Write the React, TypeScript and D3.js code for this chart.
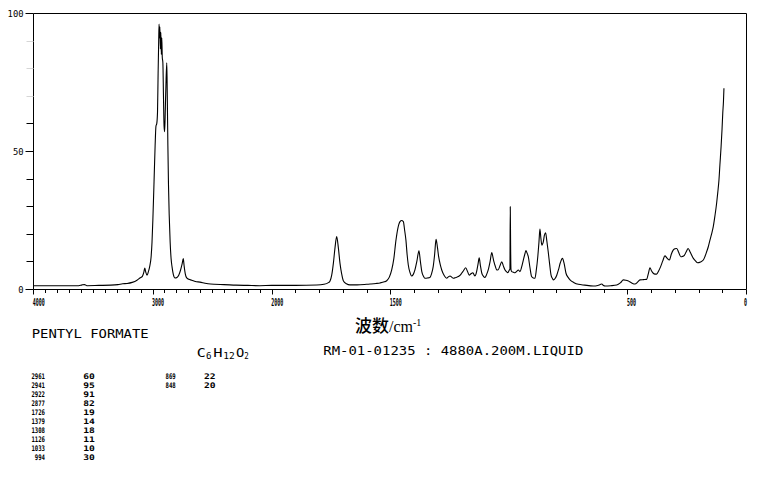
import React from "react";
import * as d3 from "d3";

// Raman spectrum of pentyl formate: [wavenumber cm-1, intensity]
const spectrum: [number, number][] = [
  [4000,1.2],[3900,1.2],[3800,1.2],[3700,1.2],[3620,1.2],[3590,1.5],[3570,1.6],[3550,1.2],[3450,1.3],[3350,1.4],
  [3290,1.6],[3250,1.9],[3213,2.0],[3170,2.4],[3130,3.2],[3105,4.0],[3085,4.6],[3072,6.2],[3065,7.6],[3058,6.4],
  [3046,5.0],[3035,6.2],[3022,8.5],[3012,11.5],[3004,17],[2997,25],[2987,39],[2978,52],[2971,59],[2964,60],
  [2958,64],[2953,78],[2948,90],[2945,96],[2942,91],[2938,95],[2934,87],[2930,93],[2926,85],[2922,91],
  [2918,84],[2913,82],[2908,70],[2903,59],[2898,57],[2892,66],[2886,76],[2880,82],[2876,70],[2871,52],
  [2866,38],[2860,27],[2852,17],[2844,11],[2836,8],[2825,5.2],[2811,4],[2795,4.2],[2780,5],[2765,6.8],
  [2752,9],[2742,11],[2735,8.5],[2725,5.5],[2713,4],[2695,3.5],[2671,3.2],[2640,2.7],[2602,2.5],[2560,2.1],
  [2534,1.9],[2480,1.7],[2400,1.6],[2300,1.4],[2200,1.3],[2100,1.2],[2000,1.3],[1900,1.3],[1810,1.45],[1780,1.7],
  [1761,2.3],[1754,2.9],[1747,5],[1740,9.3],[1733,15],[1726,19],[1719,15],[1712,9.3],[1705,5.5],[1698,3],
  [1685,1.9],[1670,1.5],[1640,1.5],[1600,1.7],[1585,1.8],[1560,2],[1543,2.2],[1525,2.6],[1515,3],[1504,4.3],
  [1494,6.9],[1485,11],[1476,17.7],[1468,22],[1459,24.4],[1452,24.8],[1445,24.4],[1439,21],[1434,17.7],[1429,12.5],
  [1424,8.7],[1417,6],[1410,4.7],[1403,5.3],[1396,6.9],[1388,10],[1379,13.8],[1373,10],[1367,6.3],[1360,4.6],
  [1354,3.9],[1343,4],[1333,4.2],[1326,5.5],[1319,8.1],[1313,12.5],[1307,18],[1301,15],[1296,11.7],[1289,8.7],
  [1283,6.9],[1272,4.8],[1262,3.9],[1255,4.4],[1248,4.7],[1241,4.3],[1234,3.9],[1223,4.2],[1213,4.5],[1205,5],
  [1199,5.7],[1190,6.8],[1182,7.7],[1174,6.3],[1167,5],[1160,5.5],[1152,5.9],[1147,5.2],[1143,4.7],[1139,5.3],
  [1136,6.3],[1130,9],[1125,11.3],[1120,8.5],[1114,5.7],[1107,4.6],[1101,4.2],[1094,5.2],[1087,6.9],[1079,10],
  [1072,13.2],[1067,11.5],[1063,9.9],[1057,8.2],[1051,6.9],[1045,7],[1037,8.5],[1030,9.9],[1023,8.3],[1016,6.9],
  [1010,6.3],[1005,5.9],[998,6.9],[995.5,7.2],[994,29.8],[992.5,15],[991,7],[988,6.3],[981,6.1],[974,5.9],
  [967,6.4],[960,6.9],[953,6.3],[946,8],[939,10.5],[933,12.5],[928,13.9],[923,13],[918,11.7],[911,7.8],
  [904,4.5],[897,4],[890,3.9],[884,7],[878,11.7],[873,17],[869,21.7],[865,18.5],[861,15.9],[858,16.3],
  [855,17],[850,19.5],[845,20.4],[840,17.5],[834,13.5],[828,9],[822,5],[816,3.8],[812,3.3],[805,3.8],
  [798,5],[791,6.9],[783,9.5],[774,11.1],[767,9.3],[759,5.7],[750,4.2],[742,3.3],[725,2.3],[707,1.7],
  [680,1.4],[644,1.1],[625,1.3],[615,1.6],[608,1.8],[601,1.3],[594,1.1],[570,1.2],[545,1.45],[530,2.2],
  [517,3.3],[507,3.2],[496,2.9],[482,2.2],[468,1.8],[457,2.5],[447,3.3],[432,3.4],[419,3.5],[412,5.5],
  [405,7.7],[398,6.5],[391,5.7],[384,5.4],[377,5.4],[368,6.6],[360,8.1],[351,10.2],[342,12],[333,11.2],
  [323,10.5],[315,12.6],[307,14.1],[300,14.6],[292,14.7],[284,13.3],[275,11.7],[268,11.8],[260,12.2],[252,13.5],
  [244,14.7],[235,13.3],[222,11.1],[213,10.2],[204,9.5],[192,9.8],[180,10.5],[173,11.8],[166,13.5],[159,15.3],
  [152,17.7],[145,20],[138,22.6],[131,26.5],[124,31],[119,35],[114,39.5],[110,45],[105,51.6],[101,58],
  [98,63.7],[95,68],[93,72.7],
];

const xTickLabels = [4000, 3000, 2000, 1500, 500, 0];
const yTickLabels = [0, 50, 100];
const yMinorTicks = [10, 20, 30, 40, 60, 70, 80, 90];

const peakWavenumbers = [2961, 2941, 2922, 2877, 1726, 1379, 1308, 1126, 1033, 994, 869, 848];
const peakIntensities = [60, 95, 91, 82, 19, 14, 18, 11, 10, 30, 22, 20];

const compoundName = "PENTYL FORMATE";
const sampleInfo = "RM-01-01235 : 4880A.200M.LIQUID";

const W = 761;
const H = 477;
const PIX = "'DejaVu Sans Mono', 'Liberation Mono', monospace";

export default function App() {
  const x = d3.scaleLinear().domain([4000, 2000, 0]).range([33.3, 271.7, 746]);
  const y = d3.scaleLinear().domain([0, 100]).range([289, 13]);

  const line = d3
    .line<[number, number]>()
    .x((d) => x(d[0]))
    .y((d) => y(d[1]))
    .curve(d3.curveMonotoneX);

  const left = Math.round(x(4000)) + 0.5;
  const right = Math.round(x(0)) + 0.5;
  const top = Math.round(y(100)) + 0.5;
  const bottom = Math.round(y(0)) + 0.5;

  const xMinor = d3.range(4000, -1, -100);

  const rows = 10;
  const rowStart = 379;
  const rowStep = 9.05;

  return (
    <svg
      width={W}
      height={H}
      viewBox={`0 0 ${W} ${H}`}
      style={{ position: "absolute", left: 0, top: 0, display: "block", background: "#fff" }}
    >
      <rect x={0} y={0} width={W} height={H} fill="#fff" />
      {/* frame */}
      <path
        d={`M${left},${bottom}V${top}H${right}V${bottom}H${left}Z`}
        fill="none"
        stroke="#000"
        strokeWidth={1}
      />
      {/* x ticks */}
      {xMinor.map((t) => {
        const xx = Math.round(x(t)) + 0.5;
        const major = xTickLabels.includes(t);
        return (
          <line key={"xt" + t} x1={xx} x2={xx} y1={bottom} y2={bottom + (major ? 5 : 3.5)} stroke="#000" strokeWidth={1} />
        );
      })}
      {xTickLabels.map((t) => {
        const s = String(t);
        const isZero = t === 0;
        return (
          <text
            key={"xl" + t}
            x={isZero ? x(t) + 1 : x(t) - 0.5}
            y={305.5}
            textAnchor={isZero ? "end" : "start"}
            fontFamily={PIX}
            fontSize={10.5}
            fontWeight={600}
            textLength={s.length * 3.0}
            lengthAdjust="spacingAndGlyphs"
            fill="#000"
          >
            {s}
          </text>
        );
      })}
      {/* y ticks */}
      {yTickLabels.map((t) => {
        const yy = Math.round(y(t)) + 0.5;
        return <line key={"yt" + t} x1={left - 8} x2={left} y1={yy} y2={yy} stroke="#000" strokeWidth={1} />;
      })}
      {yMinorTicks.map((t) => {
        const yy = Math.round(y(t)) + 0.5;
        return (
          <line
            key={"ym" + t}
            x1={left - 7}
            x2={left}
            y1={yy}
            y2={yy}
            stroke={t > 60 ? "#d6d6d6" : "#000"}
            strokeWidth={1}
          />
        );
      })}
      {yTickLabels.map((t) => {
        const s = String(t);
        return (
          <text
            key={"yl" + t}
            x={23.5}
            y={y(t) + 3.5}
            textAnchor="end"
            fontFamily={PIX}
            fontSize={9.5}
            textLength={s.length * 5.3}
            lengthAdjust="spacingAndGlyphs"
            fill="#000"
          >
            {s}
          </text>
        );
      })}
      {/* spectrum */}
      <path d={line(spectrum) || ""} fill="none" stroke="#000" strokeWidth={1.1} />

      {/* axis title */}
      <text x={355} y={331.5} fill="#000">
        <tspan fontFamily="'Noto Sans CJK SC', sans-serif" fontSize={17} fontWeight={500}>
          波数
        </tspan>
        <tspan fontFamily="'Liberation Serif', 'DejaVu Serif', serif" fontSize={16}>
          /cm
        </tspan>
        <tspan fontFamily="'Liberation Serif', 'DejaVu Serif', serif" fontSize={10} dy={-6}>
          -1
        </tspan>
      </text>

      {/* compound info */}
      <text
        x={31.7}
        y={338}
        fontFamily={PIX}
        fontSize={11.5}
        textLength={117}
        lengthAdjust="spacingAndGlyphs"
        fill="#000"
      >
        {compoundName}
      </text>
      <text
        x={323.3}
        y={355}
        fontFamily={PIX}
        fontSize={13}
        textLength={260}
        lengthAdjust="spacingAndGlyphs"
        fill="#000"
      >
        {sampleInfo}
      </text>
      {/* formula C6H12O2 */}
      <g fontFamily={PIX} fill="#000">
        <text x={196.7} y={356.5} fontSize={13} textLength={9} lengthAdjust="spacingAndGlyphs">C</text>
        <text x={206} y={359} fontSize={9} textLength={5.5} lengthAdjust="spacingAndGlyphs">6</text>
        <text x={213.3} y={356.5} fontSize={13} textLength={9.3} lengthAdjust="spacingAndGlyphs">H</text>
        <text x={223.3} y={359} fontSize={9} textLength={11.5} lengthAdjust="spacingAndGlyphs">12</text>
        <text x={236} y={356.5} fontSize={13} textLength={8.3} lengthAdjust="spacingAndGlyphs">O</text>
        <text x={244.3} y={359} fontSize={9} textLength={4.5} lengthAdjust="spacingAndGlyphs">2</text>
      </g>

      {/* peak table */}
      <g fontFamily={PIX} fontSize={7.7} fontWeight={600} fill="#000">
        {peakWavenumbers.map((wn, i) => {
          const col = Math.floor(i / rows);
          const row = i % rows;
          const yy = rowStart + row * rowStep;
          const wnRight = col === 0 ? 45 : 175.7;
          const intLeft = col === 0 ? 83.3 : 204;
          const ws = String(wn);
          const is = String(peakIntensities[i]);
          return (
            <g key={"pk" + i}>
              <text
                x={wnRight}
                y={yy}
                textAnchor="end"
                textLength={ws.length * 3.4}
                lengthAdjust="spacingAndGlyphs"
              >
                {ws}
              </text>
              <text x={intLeft} y={yy} textLength={is.length * 5.8} lengthAdjust="spacingAndGlyphs">
                {is}
              </text>
            </g>
          );
        })}
      </g>
    </svg>
  );
}
